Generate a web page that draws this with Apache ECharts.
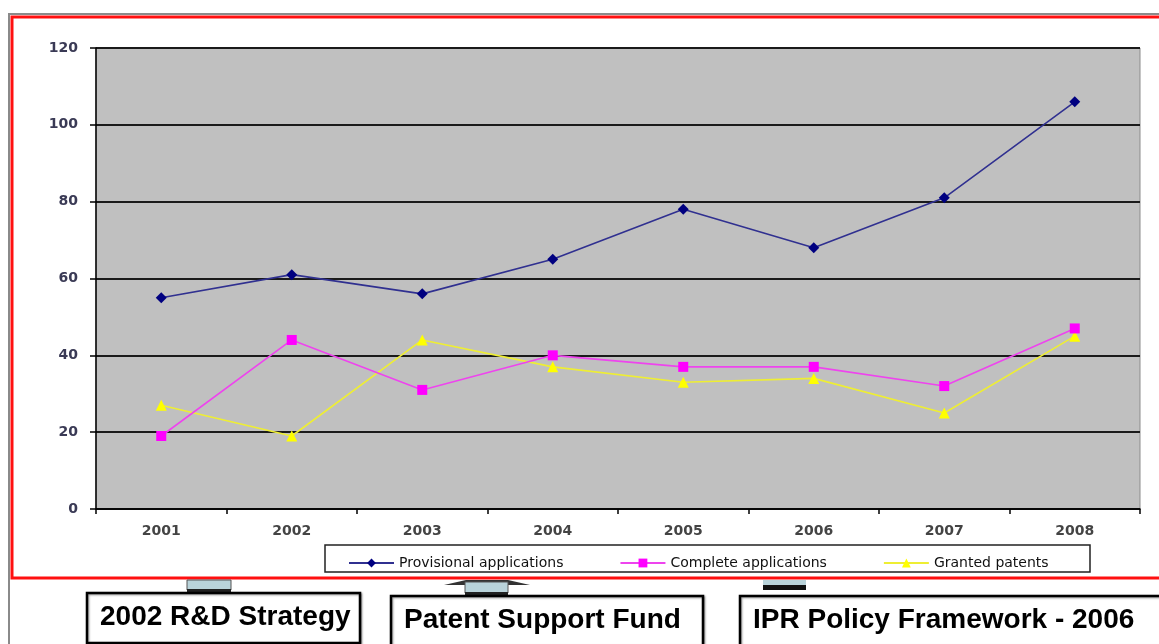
<!DOCTYPE html>
<html>
<head>
<meta charset="utf-8">
<script src="https://cdn.jsdelivr.net/npm/echarts@6/dist/echarts.min.js"></script>
<style>
  html, body { margin: 0; padding: 0; background: #fff; }
  #chart { width: 1159px; height: 644px; }
</style>
</head>
<body>
<div id="chart"></div>
<script>
// data
var years = ['2001', '2002', '2003', '2004', '2005', '2006', '2007', '2008'];
var provisional = [55, 61, 56, 65, 78, 68, 81, 106];
var complete = [19, 44, 31, 40, 37, 37, 32, 47];
var granted = [27, 19, 44, 37, 33, 34, 25, 45];
var seriesNames = ['Provisional applications', 'Complete applications', 'Granted patents'];
var boxLabels = ['2002 R&D Strategy', 'Patent Support Fund', 'IPR Policy Framework - 2006'];

var chart = echarts.init(document.getElementById('chart'));

var axisFont = { fontFamily: '"DejaVu Sans", Verdana, sans-serif', fontSize: 14, fontWeight: 'bold' };
var boxFont = 'bold 28px "Liberation Sans", Arial, sans-serif';

// bottom boxes + little connectors
var boxes = [
  { x: 87, y: 593, w: 273, h: 50 },
  { x: 391, y: 596, w: 312, h: 50 },
  { x: 740, y: 596, w: 425, h: 50 }
];
var graphics = [
  // outer gray frame
  { type: 'rect', shape: { x: 9, y: 14, width: 1160, height: 640 }, style: { fill: 'none', stroke: '#8a8a8a', lineWidth: 2 }, z: 1 },
  // red frame
  { type: 'rect', shape: { x: 12, y: 17, width: 1160, height: 561 }, style: { fill: 'none', stroke: '#ff1010', lineWidth: 3 }, z: 1 },
  // legend box
  { type: 'rect', shape: { x: 325, y: 545, width: 765, height: 27 }, style: { fill: '#fff', stroke: '#222', lineWidth: 1.5 }, z: 2 },
  // connectors
  { type: 'rect', shape: { x: 187, y: 580, width: 44, height: 10 }, style: { fill: '#b9d3da', stroke: '#555', lineWidth: 1 }, z: 3 },
  { type: 'rect', shape: { x: 187, y: 589, width: 44, height: 4 }, style: { fill: '#222' }, z: 3 },
  { type: 'polygon', shape: { points: [[444, 585], [466, 580], [508, 580], [530, 585]] }, style: { fill: '#333' }, z: 3 },
  { type: 'rect', shape: { x: 465, y: 582, width: 43, height: 11 }, style: { fill: '#b9d3da', stroke: '#555', lineWidth: 1 }, z: 3 },
  { type: 'rect', shape: { x: 465, y: 592, width: 43, height: 4 }, style: { fill: '#222' }, z: 3 },
  { type: 'rect', shape: { x: 763, y: 580, width: 43, height: 6 }, style: { fill: '#b9d3da' }, z: 3 },
  { type: 'rect', shape: { x: 763, y: 585, width: 43, height: 5 }, style: { fill: '#111' }, z: 3 }
];
boxes.forEach(function (b, i) {
  graphics.push({
    type: 'rect',
    shape: { x: b.x, y: b.y, width: b.w, height: b.h },
    style: { fill: '#fff', stroke: '#000', lineWidth: 2.5, shadowBlur: 2, shadowColor: 'rgba(0,0,0,0.4)', shadowOffsetX: 1, shadowOffsetY: 1 },
    z: 4
  });
  graphics.push({
    type: 'text',
    x: b.x + 13,
    y: b.y + 24,
    style: { text: boxLabels[i], font: boxFont, fill: '#000', textVerticalAlign: 'middle' },
    z: 5
  });
});

chart.setOption({
  animation: false,
  backgroundColor: '#fff',
  graphic: graphics,
  grid: {
    left: 96, right: 19, top: 48, bottom: 135,
    show: true, backgroundColor: '#c0c0c0', borderColor: '#8c8c8c', borderWidth: 1
  },
  legend: {
    data: seriesNames,
    left: 343, top: 551,
    itemWidth: 45, itemHeight: 11, itemGap: 56,
    textStyle: { fontFamily: '"DejaVu Sans", Verdana, sans-serif', fontSize: 14, color: '#111' },
    z: 5
  },
  xAxis: {
    type: 'category',
    data: years,
    boundaryGap: true,
    axisLine: { lineStyle: { color: '#000', width: 1.5 } },
    axisTick: { show: true, length: 5, lineStyle: { color: '#000', width: 1.5 } },
    axisLabel: Object.assign({ color: '#444', margin: 15 }, axisFont)
  },
  yAxis: {
    type: 'value',
    min: 0, max: 120, interval: 20,
    axisLine: { show: true, lineStyle: { color: '#000', width: 1.5 } },
    axisTick: { show: true, length: 6, lineStyle: { color: '#000', width: 1.5 } },
    axisLabel: Object.assign({ color: '#3a3a55', margin: 18 }, axisFont),
    splitLine: { show: true, lineStyle: { color: '#1a1a1a', width: 1.8 } }
  },
  series: [
    {
      name: seriesNames[0], type: 'line', data: provisional,
      symbol: 'diamond', symbolSize: 11,
      itemStyle: { color: '#000080' },
      lineStyle: { color: '#303090', width: 1.6 },
      z: 5
    },
    {
      name: seriesNames[1], type: 'line', data: complete,
      symbol: 'rect', symbolSize: 10,
      itemStyle: { color: '#ff00ff' },
      lineStyle: { color: '#ee44ee', width: 1.6 },
      z: 4
    },
    {
      name: seriesNames[2], type: 'line', data: granted,
      symbol: 'triangle', symbolSize: 11,
      itemStyle: { color: '#ffff00' },
      lineStyle: { color: '#eeee33', width: 1.6 },
      z: 3
    }
  ]
});
</script>
</body>
</html>
